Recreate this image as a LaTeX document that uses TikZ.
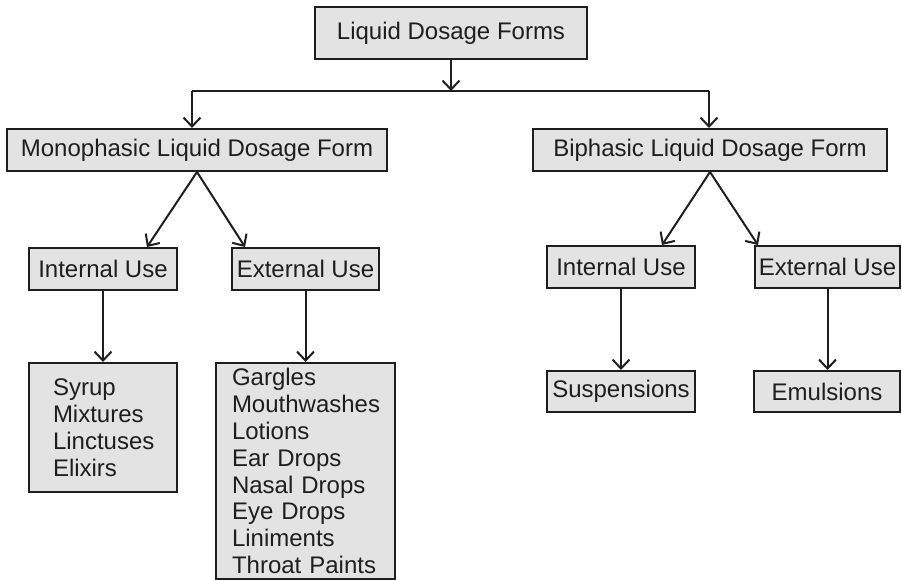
\documentclass[tikz,border=0pt]{standalone}
\usepackage{fontspec}
\setmainfont{Liberation Sans}
\usetikzlibrary{arrows.meta}
\definecolor{boxfill}{HTML}{E3E3E3}
\definecolor{ink}{HTML}{1E1E1E}
\begin{document}
\begin{tikzpicture}[x=1pt,y=-1pt,
  box/.style={draw=ink,fill=boxfill,line width=2pt,inner sep=0pt,
    text=ink,font=\fontsize{24}{26.9}\selectfont},
  arr/.style={draw=ink,line width=2pt,
    -{Straight Barb[length=9pt,width=17pt,line width=2pt]}},
  link/.style={draw=ink,line width=2pt}]
\useasboundingbox (0,0) rectangle (902,580);
% boxes (centre, width, height)
\node[box,minimum width=272pt,minimum height=52pt] (top)  at (451,33) {Liquid Dosage Forms};
\node[box,minimum width=380pt,minimum height=42pt] (mono) at (197,150) {Monophasic Liquid Dosage Form};
\node[box,minimum width=354pt,minimum height=42pt] (bi)   at (710,150) {Biphasic Liquid Dosage Form};
\node[box,minimum width=148pt,minimum height=42pt] (mint) at (103,269) {Internal Use};
\node[box,minimum width=147pt,minimum height=42pt] (mext) at (305.5,269) {External Use};
\node[box,minimum width=148pt,minimum height=42pt] (bint) at (621,267) {Internal Use};
\node[box,minimum width=145pt,minimum height=42pt] (bext) at (827.5,267) {External Use};
\node[box,minimum width=148pt,minimum height=129pt,text width=100pt,align=left] (syrup) at (103,427.5)
  {Syrup\\Mixtures\\Linctuses\\Elixirs};
\node[box,minimum width=179pt,minimum height=216pt,text width=147pt,align=left] (extlist) at (305.5,471)
  {Gargles\\Mouthwashes\\Lotions\\Ear Drops\\Nasal Drops\\Eye Drops\\Liniments\\Throat Paints};
\node[box,minimum width=148pt,minimum height=41pt] (susp) at (621,391.5) {Suspensions};
\node[box,minimum width=146pt,minimum height=41pt] (emul) at (827,391.5) {Emulsions};
% branching bar under the title
\coordinate (jM) at (451,91);
\coordinate (jL) at (192,91);
\coordinate (jR) at (709,91);
\draw[arr] (top.south) -- (jM);
\draw[link] (jL) -- (jR);
\draw[arr] (jL) -- (jL |- mono.north);
\draw[arr] (jR) -- (jR |- bi.north);
% second level
\draw[arr] (mono.south) -- ([xshift=44pt]mint.north);
\draw[arr] (mono.south) -- ([xshift=-60.5pt]mext.north);
\draw[arr] (bi.south) -- ([xshift=41pt]bint.north);
\draw[arr] (bi.south) -- ([xshift=-69.5pt]bext.north);
% third level
\draw[arr] (mint) -- (syrup);
\draw[arr] (mext) -- (extlist);
\draw[arr] (bint) -- (susp);
\draw[arr] (bext.south) -- ([xshift=0.5pt]emul.north);
\end{tikzpicture}
\end{document}
